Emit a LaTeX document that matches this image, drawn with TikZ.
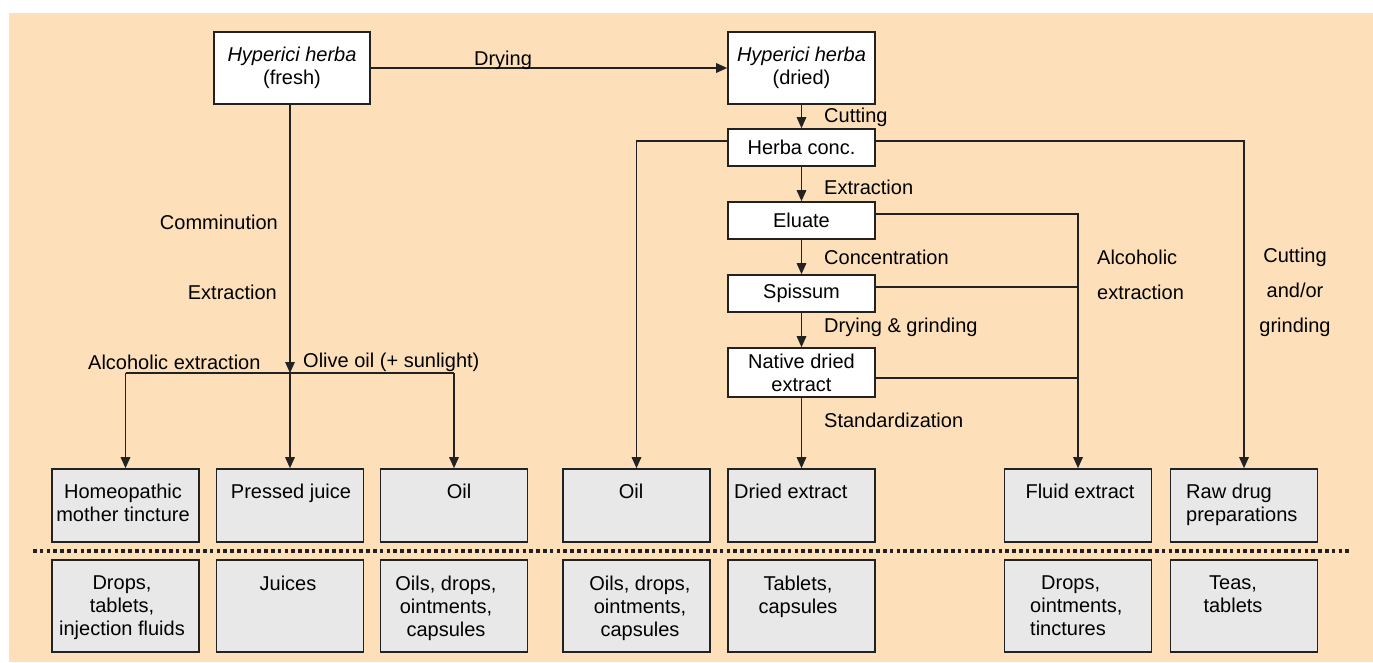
\documentclass[tikz,border=0pt]{standalone}
\usepackage{fontspec}
\setmainfont{Liberation Sans}
\usetikzlibrary{arrows.meta}
\definecolor{bgpeach}{HTML}{FDDFBA}
\definecolor{boxgray}{HTML}{E8E8E8}
\definecolor{linecol}{HTML}{222222}
\begin{document}
\begin{tikzpicture}[x=1pt,y=-1pt,
  every node/.style={font=\fontsize{20}{23}\selectfont, text=black},
  wbox/.style={draw=linecol, line width=1.6pt, fill=white, inner sep=0pt, align=center, minimum width=147pt},
  gbox/.style={draw=linecol, line width=1.6pt, fill=boxgray, minimum width=147pt, inner sep=0pt},
  rowone/.style={gbox, minimum height=73pt},
  rowtwo/.style={gbox, minimum height=92pt},
  conn/.style={draw=linecol, line width=1.5pt},
  arr/.style={conn, -{Triangle[length=11pt,width=9.5pt]}},
  lbl/.style={inner sep=0pt},
  btxt/.style={inner sep=0pt, anchor=north, align=center},
  btxtl/.style={inner sep=0pt, anchor=north west, align=left},
]
\useasboundingbox (0,0) rectangle (1373,662);
\fill[bgpeach] (9,13) rectangle (1373,662);

% process boxes
\node[wbox, minimum width=156pt, minimum height=72pt] (fresh) at (292,68) {\textit{Hyperici herba}\\(fresh)};
\node[wbox, minimum height=72pt] (dried) at (801.5,68) {\textit{Hyperici herba}\\(dried)};
\node[wbox, minimum height=37pt] (hc) at (801.5,147.5) {Herba conc.};
\node[wbox, minimum height=37pt] (eluate) at (801.5,220.5) {Eluate};
\node[wbox, minimum height=37pt] (spissum) at (801.5,293.5) {Spissum};
\node[wbox, minimum height=49pt] (native) at (801.5,372.5) {Native dried\\extract};

% product boxes row 1
\node[rowone] (homeo) at (125.5,505.5) {};
\node[rowone] (pj) at (290,505.5) {};
\node[rowone] (oilA) at (454,505.5) {};
\node[rowone] (oilB) at (636.5,505.5) {};
\node[rowone] (dex) at (801.5,505.5) {};
\node[rowone] (fex) at (1078,505.5) {};
\node[rowone] (raw) at (1244,505.5) {};

% product boxes row 2
\node[rowtwo] (homeoF) at (125.5,606) {};
\node[rowtwo] (pjF) at (290,606) {};
\node[rowtwo] (oilAF) at (454,606) {};
\node[rowtwo] (oilBF) at (636.5,606) {};
\node[rowtwo] (dexF) at (801.5,606) {};
\node[rowtwo] (fexF) at (1078,606) {};
\node[rowtwo] (rawF) at (1244,606) {};

% texts row 1
\node[btxt] (homeoT) at (123,484) {Homeopathic\\mother tincture};
\node[btxt] (pjT) at (291,484) {Pressed juice};
\node[btxt] (oilAT) at (459,484) {Oil};
\node[btxt] (oilBT) at (631,484) {Oil};
\node[btxtl] (dexT) at (734,484) {Dried extract};
\node[btxt] (fexT) at (1080,484) {Fluid extract};
\node[btxtl] (rawT) at (1186,484) {Raw drug\\preparations};

% texts row 2
\node[btxt] (homeoFT) at (122,576) {Drops,\\tablets,\\injection fluids};
\node[btxt] (pjFT) at (288,576) {Juices};
\node[btxt] (oilAFT) at (446,576) {Oils, drops,\\ointments,\\capsules};
\node[btxt] (oilBFT) at (640,576) {Oils, drops,\\ointments,\\capsules};
\node[btxt] (dexFT) at (798,576) {Tablets,\\capsules};
\node[btxtl] (fexFT) at (1030,576) {\hspace*{11pt}Drops,\\ointments,\\tinctures};
\node[btxt] (rawFT) at (1233,576) {Teas,\\tablets};

% connectors right branch
\draw[arr] (fresh.east) -- (dried.west);
\draw[arr] (dried.south) -- (hc.north);
\draw[arr] (hc.south) -- (eluate.north);
\draw[arr] (eluate.south) -- (spissum.north);
\draw[arr] (spissum.south) -- (native.north);
\draw[arr] (native.south) -- (dex.north);
\draw[arr] ([yshift=6.5pt]hc.west) -| (oilB.north);
\draw[arr] ([yshift=6.5pt]hc.east) -| (raw.north);
\draw[arr] ([yshift=6.5pt]eluate.east) -| (fex.north);
\draw[conn] ([yshift=6.5pt]spissum.east) coordinate (sp1) -- (sp1 -| fex.north);
\draw[conn] ([yshift=-5.5pt]native.east) coordinate (na1) -- (na1 -| fex.north);

% connectors left branch
\coordinate (split) at (290,373);
\draw[arr] (fresh.south -| split) -- (split);
\draw[conn] (split -| homeo.north) -- (split -| oilA.north);
\draw[arr] (split -| homeo.north) -- (homeo.north);
\draw[arr] (split) -- (pj.north);
\draw[arr] (split -| oilA.north) -- (oilA.north);

% dotted separator
\coordinate (dl) at (33,551);
\coordinate (dr) at (1350,551);
\draw[linecol, line width=3.6pt, dash pattern=on 3.6pt off 3.2pt] (dl) -- (dr);

% labels
\node[lbl] (dryl) at (503,60) {Drying};
\node[lbl, anchor=west] (cutl) at (824,117) {Cutting};
\node[lbl, anchor=west] (extl) at (824,187) {Extraction};
\node[lbl, anchor=west] (concl) at (824,257) {Concentration};
\node[lbl, anchor=west] (dgl) at (824,327) {Drying \& grinding};
\node[lbl, anchor=west] (stdl) at (824,420) {Standardization};
\node[lbl, anchor=west, align=left, font=\fontsize{20}{35}\selectfont] (alcl) at (1097,274.5) {Alcoholic\\extraction};
\node[lbl, align=center, font=\fontsize{20}{35}\selectfont] (cagl) at (1295,292) {Cutting\\and/or\\grinding};
\node[lbl, anchor=east] (comml) at (278,222) {Comminution};
\node[lbl, anchor=east] (ext2l) at (277,292) {Extraction};
\node[lbl, anchor=west] (alc2l) at (88,362) {Alcoholic extraction};
\node[lbl, anchor=west] (olivel) at (303,362) {Olive oil (+ sunlight)};
\end{tikzpicture}
\end{document}
